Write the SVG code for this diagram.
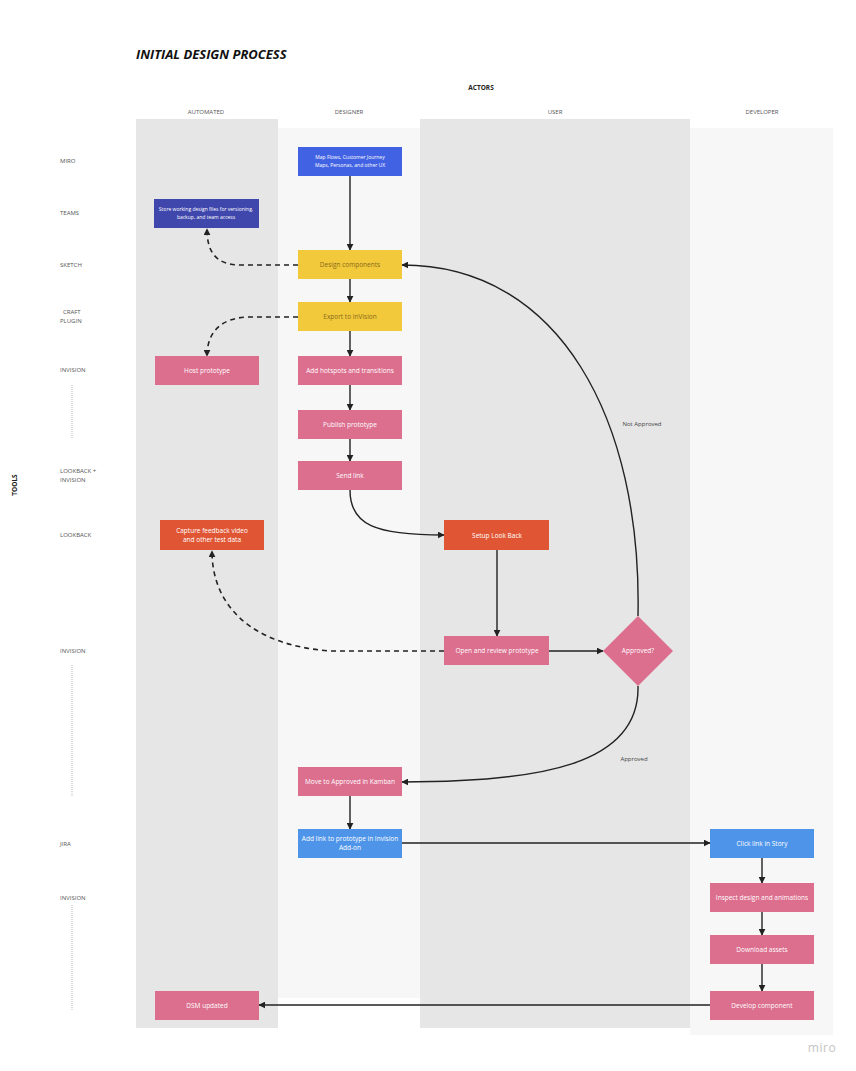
<svg xmlns="http://www.w3.org/2000/svg" width="856" height="1071" viewBox="0 0 856 1071">
<style>
text{font-family:"Open Sans","Liberation Sans",sans-serif}
.hdr{font-size:6px;fill:#555;text-anchor:middle}
.tool{font-size:6px;fill:#555}
.nt{font-size:6.5px;fill:#fff;text-anchor:middle}
.sm{font-size:5px}
.ntd{font-size:6.5px;fill:#8a6a1a;text-anchor:middle}
.lbl{font-size:6px;fill:#444;text-anchor:middle}
.pink{fill:#dc6e8e}
.orange{fill:#e05634}
.yellow{fill:#f1c93b}
.lblue{fill:#4e95ea}
.e{fill:none;stroke:#222;stroke-width:1.4}
.d{fill:none;stroke:#222;stroke-width:1.6;stroke-dasharray:5 4}
.dot{stroke:#bbb;stroke-width:1;stroke-dasharray:1 1}
</style>
<defs>
<marker id="ah" viewBox="0 0 10 10" refX="9" refY="5" markerWidth="7" markerHeight="7" orient="auto" markerUnits="userSpaceOnUse">
<path d="M0,0 L10,5 L0,10 z" fill="#222"/>
</marker>
</defs>
<rect width="856" height="1071" fill="#ffffff"/>
<g id="lanes">
<rect x="136" y="119" width="142" height="909" fill="#e6e6e6"/>
<rect x="278" y="128" width="142" height="870" fill="#f7f7f7"/>
<rect x="420" y="119" width="270" height="909" fill="#e6e6e6"/>
<rect x="690" y="128" width="143" height="907" fill="#f7f7f7"/>
</g>
<g id="headers">
<text x="136" y="59" font-size="13" font-weight="bold" font-style="italic" fill="#111">INITIAL DESIGN PROCESS</text>
<text x="481" y="90" font-size="6.5" font-weight="bold" fill="#222" text-anchor="middle">ACTORS</text>
<text class="hdr" x="206" y="114">AUTOMATED</text>
<text class="hdr" x="349" y="114">DESIGNER</text>
<text class="hdr" x="555" y="114">USER</text>
<text class="hdr" x="762" y="114">DEVELOPER</text>
<text x="17" y="485" font-size="6.5" font-weight="bold" fill="#222" text-anchor="middle" transform="rotate(-90 17 485)">TOOLS</text>
</g>
<g id="tools">
<text class="tool" x="60" y="163">MIRO</text>
<text class="tool" x="60" y="215">TEAMS</text>
<text class="tool" x="60" y="267">SKETCH</text>
<text class="tool" x="63" y="314">CRAFT</text>
<text class="tool" x="60" y="323">PLUGIN</text>
<text class="tool" x="60" y="372">INVISION</text>
<line class="dot" x1="72" y1="385" x2="72" y2="438"/>
<text class="tool" x="60" y="473">LOOKBACK +</text>
<text class="tool" x="60" y="482">INVISION</text>
<text class="tool" x="60" y="537">LOOKBACK</text>
<text class="tool" x="60" y="653">INVISION</text>
<line class="dot" x1="72" y1="665" x2="72" y2="797"/>
<text class="tool" x="60" y="846">JIRA</text>
<text class="tool" x="60" y="900">INVISION</text>
<line class="dot" x1="72" y1="905" x2="72" y2="1010"/>
</g>
<g id="connectors">
<line class="e" x1="350" y1="176" x2="350" y2="250" marker-end="url(#ah)"/>
<line class="e" x1="350" y1="279" x2="350" y2="302" marker-end="url(#ah)"/>
<line class="e" x1="350" y1="331" x2="350" y2="356" marker-end="url(#ah)"/>
<line class="e" x1="350" y1="385" x2="350" y2="410" marker-end="url(#ah)"/>
<line class="e" x1="350" y1="439" x2="350" y2="461" marker-end="url(#ah)"/>
<path class="e" d="M350 490 C350 525 375 535 444 535" marker-end="url(#ah)"/>
<line class="e" x1="497" y1="550" x2="497" y2="636" marker-end="url(#ah)"/>
<line class="e" x1="549" y1="651" x2="603" y2="651" marker-end="url(#ah)"/>
<path class="e" d="M638 616 C642 420 560 265 402 265" marker-end="url(#ah)"/>
<path class="e" d="M638 686 C640 765 540 782 402 782" marker-end="url(#ah)"/>
<line class="e" x1="350" y1="796" x2="350" y2="829" marker-end="url(#ah)"/>
<line class="e" x1="402" y1="843" x2="710" y2="843" marker-end="url(#ah)"/>
<line class="e" x1="762" y1="858" x2="762" y2="883" marker-end="url(#ah)"/>
<line class="e" x1="762" y1="912" x2="762" y2="935" marker-end="url(#ah)"/>
<line class="e" x1="762" y1="964" x2="762" y2="991" marker-end="url(#ah)"/>
<line class="e" x1="710" y1="1005" x2="259" y2="1005" marker-end="url(#ah)"/>
<path class="d" d="M298 265 L240 265 C216 265 207 252 207 229" marker-end="url(#ah)"/>
<path class="d" d="M298 317 L248 317 C220 318 207 333 207 356" marker-end="url(#ah)"/>
<path class="d" d="M444 651 L330 651 C250 645 212 605 212 551" marker-end="url(#ah)"/>
<text class="lbl" x="642" y="426">Not Approved</text>
<text class="lbl" x="634" y="761">Approved</text>
</g>
<g id="n-miro"><rect x="298" y="147" width="104" height="29" fill="#4262e4"/><text class="nt sm" x="350" y="159">Map Flows, Customer Journey</text><text class="nt sm" x="350" y="166.5">Maps, Personas, and other UX</text></g>
<g id="n-teams"><rect x="154" y="199" width="105" height="29" fill="#3f47ad"/><text class="nt sm" x="206" y="211">Store working design files for versioning,</text><text class="nt sm" x="206" y="218.5">backup, and team access</text></g>
<g id="n-design"><rect class="yellow" x="298" y="250" width="104" height="29"/><text class="ntd" x="350" y="267">Design components</text></g>
<g id="n-export"><rect class="yellow" x="298" y="302" width="104" height="29"/><text class="ntd" x="350" y="319">Export to InVision</text></g>
<g id="n-host"><rect class="pink" x="155" y="356" width="104" height="29"/><text class="nt" x="207" y="373">Host prototype</text></g>
<g id="n-hotspots"><rect class="pink" x="298" y="356" width="104" height="29"/><text class="nt" x="350" y="373">Add hotspots and transitions</text></g>
<g id="n-publish"><rect class="pink" x="298" y="410" width="104" height="29"/><text class="nt" x="350" y="427">Publish prototype</text></g>
<g id="n-send"><rect class="pink" x="298" y="461" width="104" height="29"/><text class="nt" x="350" y="478">Send link</text></g>
<g id="n-capture"><rect class="orange" x="160" y="520" width="104" height="30"/><text class="nt" x="212" y="533">Capture feedback video</text><text class="nt" x="212" y="542">and other test data</text></g>
<g id="n-setup"><rect class="orange" x="444" y="520" width="105" height="30"/><text class="nt" x="497" y="538">Setup Look Back</text></g>
<g id="n-open"><rect class="pink" x="444" y="636" width="105" height="29"/><text class="nt" x="497" y="653">Open and review prototype</text></g>
<g id="n-approved"><polygon class="pink" points="638,616 673,651 638,686 603,651"/><text class="nt" x="638" y="653">Approved?</text></g>
<g id="n-move"><rect class="pink" x="298" y="767" width="104" height="29"/><text class="nt" x="350" y="784">Move to Approved in Kamban</text></g>
<g id="n-addlink"><rect class="lblue" x="298" y="829" width="104" height="29"/><text class="nt" x="350" y="841">Add link to prototype in Invision</text><text class="nt" x="350" y="850">Add-on</text></g>
<g id="n-click"><rect class="lblue" x="710" y="829" width="104" height="29"/><text class="nt" x="762" y="846">Click link in Story</text></g>
<g id="n-inspect"><rect class="pink" x="710" y="883" width="104" height="29"/><text class="nt" x="762" y="900">Inspect design and animations</text></g>
<g id="n-download"><rect class="pink" x="710" y="935" width="104" height="29"/><text class="nt" x="762" y="952">Download assets</text></g>
<g id="n-develop"><rect class="pink" x="710" y="991" width="104" height="29"/><text class="nt" x="762" y="1008">Develop component</text></g>
<g id="n-dsm"><rect class="pink" x="155" y="991" width="104" height="29"/><text class="nt" x="207" y="1008">DSM updated</text></g>
<text x="822" y="1052" font-size="12" fill="#c4c4c4" text-anchor="middle" letter-spacing="0.5">miro</text>
</svg>
